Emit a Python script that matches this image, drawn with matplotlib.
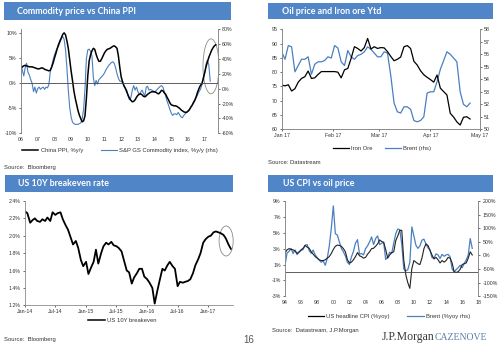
import matplotlib
matplotlib.use('Agg')
import matplotlib.pyplot as plt
import matplotlib.dates as mdates
from matplotlib.patches import Rectangle, Ellipse
from matplotlib.lines import Line2D
import numpy as np
import pandas as pd

plt.rcParams['font.family'] = ['Liberation Sans', 'DejaVu Sans']

# ---- commodity price vs China PPI (monthly, from Jan 2006) ----
china_ppi = [3.1, 3.3, 3.5, 3.6, 3.5, 3.4, 3.3, 3.3, 3.3, 3.2, 3.1, 3.0,
             2.9, 2.9, 3.0, 3.1, 3.0, 2.8, 2.7, 2.6, 2.5, 2.6, 3.2, 4.0,
             5.0, 5.9, 6.9, 7.8, 8.5, 9.1, 9.8, 10.1, 9.7, 8.5, 7.0, 4.8,
             2.5, 0.6, -1.5, -3.0, -4.3, -5.5, -6.4, -7.1, -7.7, -7.5, -6.5, -3.0,
             1.5, 4.5, 5.7, 6.5, 7.0, 6.8, 5.8, 5.0, 4.4, 4.4, 4.9, 5.5,
             6.1, 6.5, 6.8, 6.9, 7.0, 7.2, 7.4, 7.5, 7.3, 7.0, 5.5, 3.2,
             1.3, 0.3, -0.5, -1.0, -1.7, -2.4, -3.0, -3.4, -3.7, -3.6, -3.3, -2.8,
             -2.4, -2.2, -2.1, -2.3, -2.6, -2.7, -2.5, -2.2, -2.0, -1.8, -1.7, -1.7,
             -1.7, -1.8, -2.0, -2.1, -1.8, -1.4, -1.5, -1.9, -2.2, -2.8, -3.3, -3.9,
             -4.3, -4.4, -4.5, -4.5, -4.6, -4.8, -5.0, -5.3, -5.5, -5.7, -5.8, -5.8,
             -5.6, -5.3, -4.8, -4.4, -3.8, -3.3, -2.6, -1.7, -1.0, -0.4, -0.1, 1.0,
             2.1, 3.3, 4.3, 5.2, 5.9, 6.6, 7.1, 7.5, 7.7]
gsci_yoy = [36, 24, 17, 28, 34, 22, 18, 12, 7, -4, 2, -6,
            0, 2, -1, 1, 2, -1, 2, 1, 5, 22, 30, 38,
            45, 50, 54, 57, 62, 67, 70, 66, 52, 28, -2, -25,
            -38, -45, -47, -48, -48, -48, -47, -46, -40, -28, 0, 40,
            52, 53, 50, 44, 15, 4, 11, 6, 12, 14, 16, 18,
            21, 25, 28, 31, 33, 35, 36, 34, 28, 20, 14, 10,
            10, 8, 4, 0, -2, -10, -15, -12, -2, 4, -2, 2,
            -4, -8, -5, -2, -6, -10, 2, 3, -2, -1, -2, -3,
            -5, -3, -1, 1, 3, 4, 2, -4, -10, -17, -22, -28,
            -33, -36, -34, -34, -35, -32, -35, -38, -39, -36, -34, -32,
            -30, -28, -25, -22, -20, -16, -12, -8, -4, -1, 5, 12,
            20, 33, 38, 32, 10]
ppi_years = ['06', '07', '08', '09', '10', '11', '12', '13', '14', '15', '16', '17']

# ---- iron ore and Brent, 2017 ytd (every second day from 1 Jan) ----
iron_ore = [75.5, 75.2, 75.6, 73.4, 74.2, 76.5, 77.8, 78.4, 80.4, 77.8,
            78.0, 79.2, 80.2, 80.2, 80.2, 80.2, 80.2, 80.0, 78.0, 80.8,
            81.3, 84.8, 88.9, 88.3, 87.4, 88.6, 91.8, 88.1, 88.9, 88.3,
            88.6, 88.5, 87.2, 85.5, 84.0, 84.5, 85.3, 88.9, 89.3, 88.3,
            83.8, 82.5, 80.5, 79.1, 78.2, 77.4, 76.5, 79.0, 74.4, 73.2,
            72.0, 65.6, 64.3, 62.6, 61.5, 64.2, 64.4, 63.6]
brent = [56.2, 55.6, 56.7, 56.6, 54.6, 55.1, 55.6, 55.6, 55.8, 54.4,
         55.2, 55.4, 55.4, 55.5, 55.8, 55.7, 56.7, 56.5, 55.4, 55.1,
         56.3, 55.8, 55.6, 55.9, 56.0, 56.2, 56.6, 56.4, 56.1, 55.8,
         55.8, 56.2, 56.1, 54.3, 52.1, 51.4, 51.3, 51.8, 51.8, 51.6,
         50.7, 50.6, 50.7, 51.0, 52.9, 53.0, 53.0, 53.8, 54.8, 55.5,
         56.2, 56.0, 55.7, 55.4, 53.0, 52.0, 51.8, 52.1]
oil_dates = pd.date_range('2017-01-01', periods=len(iron_ore), freq='2D')
oil_ticks = ['2017-01-01', '2017-02-01', '2017-03-01', '2017-04-01', '2017-05-01']

# ---- US 10Y breakeven (semi-monthly from Jan 2014) ----
breakeven = [2.28, 2.26, 2.15, 2.18, 2.20, 2.17, 2.16, 2.19, 2.17, 2.21,
             2.17, 2.27, 2.24, 2.26, 2.27, 2.19, 2.12, 2.07, 1.98, 1.90,
             1.94, 1.86, 1.72, 1.65, 1.70, 1.56, 1.64, 1.70, 1.84, 1.68,
             1.80, 1.88, 1.92, 1.90, 1.93, 1.89, 1.88, 1.86, 1.82, 1.72,
             1.60, 1.58, 1.45, 1.52, 1.57, 1.62, 1.62, 1.53, 1.50, 1.46,
             1.40, 1.22, 1.36, 1.48, 1.62, 1.60, 1.66, 1.70, 1.65, 1.62,
             1.42, 1.47, 1.46, 1.47, 1.48, 1.50, 1.57, 1.66, 1.73, 1.80,
             1.92, 1.96, 1.99, 2.00, 2.04, 2.05, 2.04, 2.03, 2.01, 1.97,
             1.90, 1.85]
be_dates = pd.date_range('2014-01-01', periods=len(breakeven), freq='SMS')
be_ticks = ['2014-01-01', '2014-07-01', '2015-01-01', '2015-07-01',
            '2016-01-01', '2016-07-01', '2017-01-01']
be_labels = ['Jan-14', 'Jul-14', 'Jan-15', 'Jul-15', 'Jan-16', 'Jul-16', 'Jan-17']

# ---- US CPI vs Brent (quarterly from 1994) ----
us_cpi = [2.4, 2.85, 3.0, 2.9, 2.85, 2.7, 2.4, 2.6, 2.85, 3.05, 3.4, 3.2,
          3.05, 2.6, 2.3, 2.0, 1.8, 1.6, 1.5, 1.5, 1.6, 1.8, 2.0, 2.4,
          2.9, 3.3, 3.45, 3.4, 3.3, 3.0, 2.6, 1.6, 1.2, 1.3, 1.6, 2.0,
          2.5, 2.1, 2.0, 1.8, 1.9, 2.3, 2.6, 3.0, 3.05, 3.3, 3.6, 4.1,
          3.9, 3.8, 2.9, 1.8, 2.2, 2.5, 2.6, 4.0, 4.6, 5.3, 5.3, 1.5,
          -0.3, -1.3, -2.0, 0.5, 1.5, 1.3, 1.1, 1.0, 1.8, 3.0, 3.6, 3.4,
          2.8, 2.2, 1.7, 1.9, 1.6, 1.2, 1.5, 1.3, 1.5, 1.9, 1.8, 1.2,
          0.1, 0.0, 0.1, 0.4, 1.0, 1.1, 1.2, 1.8, 2.6, 2.2]
brent_yoy = [-36, 8, 15, 26, 7, 20, 3, 12, 18, 22, 38, 40,
             18, 8, 20, 2, -8, -17, -25, -20, -36, -10, 35, 100,
             182, 80, 75, 50, 26, 13, -2, -25, -33, -5, 15, 45,
             58, 5, 7, 2, 25, 35, 50, 68, 40, 62, 72, 40,
             45, 48, -15, -5, 12, 8, 45, 80, 97, 95, 40, -50,
             -57, -52, -25, 105, 72, 38, 26, 35, 56, 60, 42, 28,
             20, -8, -10, 6, 2, -11, 4, -3, 2, 4, -5, -50,
             -60, -52, -45, -36, -45, -29, -17, 2, 62, 26]
cpi_years = 1994 + np.arange(len(us_cpi)) / 4

BAR = '#5085c8'
BLUE = '#4a7fc0'
SPINE = '#8c8c8c'
TXT = '#333333'

fig = plt.figure(figsize=(5.0, 3.44), dpi=100)
W, H = 500.0, 344.0


def fx(px):
    return px / W


def fy(py):
    return 1 - py / H


def title_bar(x0, y0, x1, y1, text, tx):
    fig.add_artist(Rectangle((fx(x0), fy(y1)), fx(x1 - x0), (y1 - y0) / H,
                             transform=fig.transFigure, facecolor=BAR,
                             edgecolor='none'))
    fig.text(fx(tx), fy((y0 + y1) / 2), text, color='white', fontsize=6.4,
             fontweight='bold', family='Lato', va='center', ha='left')


def style(ax, sides):
    for s in ['left', 'right', 'top', 'bottom']:
        ax.spines[s].set_visible(s in sides)
        ax.spines[s].set_color(SPINE)
        ax.spines[s].set_linewidth(0.6)
    ax.tick_params(labelsize=3.8, colors=TXT, length=1.5, width=0.5, pad=1.5)
    ax.patch.set_visible(False)


def legend(handles, labels, cx, cy, colsp=3.0):
    fig.legend(handles, labels, loc='center', bbox_to_anchor=(fx(cx), fy(cy)),
               ncol=len(handles), frameon=False, fontsize=4.2, handlelength=2.8,
               columnspacing=colsp, handletextpad=0.4, labelcolor=TXT)


def pct(v, _):
    return '%d%%' % v


# ---- panel 1 ----
title_bar(4, 2, 231, 20, 'Commodity price vs China PPI', 17)
ax1 = fig.add_axes([fx(21), fy(133.3), fx(197), 104.3 / H])
ax1r = ax1.twinx()
t1 = 2006 + np.arange(len(china_ppi)) / 12
t1b = 2006 + np.arange(len(gsci_yoy)) / 12
ax1r.plot(t1b, gsci_yoy, color=BLUE, lw=0.8)
ax1.plot(t1, china_ppi, color='black', lw=1.1)
ax1.axhline(0, color='#444444', lw=0.6)
ax1.set_zorder(ax1r.get_zorder() + 1)
ax1.set_xlim(2006, 2017.8)
ax1.set_ylim(-10, 10.87)
ax1.set_yticks([-10, -5, 0, 5, 10])
ax1.yaxis.set_major_formatter(pct)
ax1.set_xticks(np.arange(2006, 2018))
ax1.set_xticklabels(ppi_years)
ax1.tick_params(axis='x', length=0, pad=2.5)
ax1r.set_ylim(-60, 80)
ax1r.set_yticks(np.arange(-60, 81, 20))
ax1r.yaxis.set_major_formatter(pct)
style(ax1, ['left', 'right'])
style(ax1r, ['left', 'right'])
ax1.tick_params(axis='x', length=0, pad=2.5)
ax1.add_patch(Ellipse((2017.38, 3.4), 0.96, 11.0, fill=False,
                      edgecolor='#8a8a8a', lw=0.6, clip_on=False))
legend([Line2D([], [], color='black', lw=1.1), Line2D([], [], color=BLUE, lw=0.8)],
       ['China PPI, %y/y', 'S&P GS Commodity index, %y/y (rhs)'], 120, 150)
fig.text(fx(4), fy(168), 'Source:  Bloomberg', fontsize=4.2, color=TXT, va='center')

# ---- panel 2 ----
title_bar(268, 3, 493, 19, 'Oil price and Iron ore Ytd', 282)
ax2 = fig.add_axes([fx(281.7), fy(129.3), fx(198.3), 100 / H])
ax2r = ax2.twinx()
ax2r.plot(oil_dates, brent, color=BLUE, lw=0.9)
ax2.plot(oil_dates, iron_ore, color='black', lw=0.9)
ax2.set_zorder(ax2r.get_zorder() + 1)
ax2.set_xlim(pd.Timestamp('2017-01-01'), pd.Timestamp('2017-05-01'))
ax2.set_ylim(60, 95)
ax2.set_yticks(np.arange(60, 96, 5))
ax2r.set_ylim(50, 58)
ax2r.set_yticks(np.arange(50, 59, 1))
ax2.set_xticks(pd.to_datetime(oil_ticks))
ax2.xaxis.set_major_formatter(mdates.DateFormatter('%b %y'))
style(ax2, ['left', 'right', 'bottom'])
style(ax2r, ['left', 'right', 'bottom'])
legend([Line2D([], [], color='black', lw=0.9), Line2D([], [], color=BLUE, lw=0.9)],
       ['Iron Ore', 'Brent (rhs)'], 382, 148.3, colsp=2.0)
fig.text(fx(268), fy(163), 'Source: Datastream', fontsize=4.2, color=TXT, va='center')

# ---- panel 3 ----
title_bar(5, 175, 233, 192, 'US 10Y breakeven rate', 18)
ax3 = fig.add_axes([fx(25), fy(305.3), fx(208), 104.3 / H])
ax3.plot(be_dates, breakeven, color='black', lw=1.3)
ax3.set_xlim(pd.Timestamp('2014-01-01'), pd.Timestamp('2017-05-28'))
ax3.set_ylim(1.2, 2.4)
ax3.set_yticks(np.arange(1.2, 2.41, 0.2))
ax3.yaxis.set_major_formatter(lambda v, _: '%.1f%%' % v)
ax3.set_xticks(pd.to_datetime(be_ticks))
ax3.set_xticklabels(be_labels)
style(ax3, ['left', 'bottom'])
ax3.add_patch(Ellipse((mdates.date2num(pd.Timestamp('2017-04-17')), 1.94), 84, 0.345,
                      fill=False, edgecolor='#8a8a8a', lw=0.6, clip_on=False))
legend([Line2D([], [], color='black', lw=1.1)], ['US 10Y breakeven'], 122.5, 320)
fig.text(fx(4), fy(340), 'Source:  Bloomberg', fontsize=4.2, color=TXT, va='center')
fig.text(fx(243), fy(340), '16', fontsize=7, color='#555555', va='center')

# ---- panel 4 ----
title_bar(268, 175, 493, 192, 'US CPI vs oil price', 283)
ax4 = fig.add_axes([fx(285), fy(296.3), fx(193.3), 95.3 / H])
ax4r = ax4.twinx()
ax4r.plot(cpi_years, brent_yoy, color=BLUE, lw=0.9)
ax4.plot(cpi_years, us_cpi, color='#222222', lw=0.8)
ax4.axhline(0, color='#444444', lw=0.6)
ax4.set_zorder(ax4r.get_zorder() + 1)
ax4.set_xlim(1994, 2018)
ax4.set_ylim(-3, 9)
ax4.set_yticks(np.arange(-3, 10, 2))
ax4.yaxis.set_major_formatter(pct)
ax4r.set_ylim(-150, 200)
ax4r.set_yticks(np.arange(-150, 201, 50))
ax4r.yaxis.set_major_formatter(pct)
ax4.set_xticks(np.arange(1994, 2019, 2))
ax4.set_xticklabels(['%02d' % (y % 100) for y in range(1994, 2019, 2)])
style(ax4, ['left', 'right'])
style(ax4r, ['left', 'right'])
ax4.tick_params(axis='x', length=0, pad=2.5)
legend([Line2D([], [], color='black', lw=0.9), Line2D([], [], color=BLUE, lw=0.9)],
       ['US headline CPI (%yoy)', 'Brent (%yoy rhs)'], 389, 316.3)
fig.text(fx(272), fy(330.7), 'Source:  Datastream, J.P.Morgan', fontsize=4.2,
         color=TXT, va='center')

# footer logo
fig.text(fx(382), fy(337), 'J.P.Morgan', fontsize=8.5, family='Liberation Serif',
         color='#3a3a3a', va='center')
fig.text(fx(435), fy(337.5), 'CAZENOVE', fontsize=7, family='Liberation Serif',
         color='#5a7eab', va='center')

fig.savefig('out.png', dpi=100)
